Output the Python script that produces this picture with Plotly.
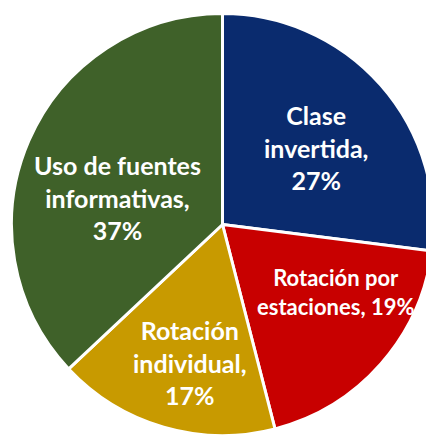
import plotly.graph_objects as go

categories = ["Clase invertida", "Rotación por estaciones", "Rotación individual", "Uso de fuentes informativas"]
values = [27, 19, 17, 37]
colors = ["#0A2B6E", "#C80000", "#C89A00", "#3F6129"]
label_texts = ["Clase<br>invertida,<br>27%", "Rotación por<br>estaciones, 19%",
               "Rotación<br>individual,<br>17%", "Uso de fuentes<br>informativas,<br>37%"]
label_sizes = [25, 22, 25, 25]
# label anchor offsets from pie centre, in units of the pie radius (style only)
label_offsets = [(0.443, 0.365), (0.535, -0.322), (-0.154, -0.652), (-0.500, 0.128)]

W, H = 434, 437
PAGE = 8  # default body margin of the page
cx_px, cy_px, r_px = 222.5 - PAGE, 224.5 - PAGE, 211

fig = go.Figure(go.Pie(
    labels=categories,
    values=values,
    textinfo="none",
    sort=False,
    direction="clockwise",
    rotation=0,
    marker=dict(colors=colors, line=dict(color="white", width=3)),
    domain=dict(x=[(cx_px - r_px) / W, (cx_px + r_px) / W],
                y=[1 - (cy_px + r_px) / H, 1 - (cy_px - r_px) / H]),
    hoverinfo="label+percent",
))

for txt, size, (ox, oy) in zip(label_texts, label_sizes, label_offsets):
    fig.add_annotation(
        x=(cx_px + ox * r_px) / W, y=1 - (cy_px - oy * r_px) / H,
        xref="paper", yref="paper", text=txt, showarrow=False,
        xanchor="center", yanchor="middle", align="center",
        font=dict(family="Lato", size=size, color="white", weight="bold"),
    )

fig.update_layout(
    width=W, height=H,
    margin=dict(l=0, r=0, t=0, b=0),
    showlegend=False,
    paper_bgcolor="white",
)
fig.write_html("out.html")
